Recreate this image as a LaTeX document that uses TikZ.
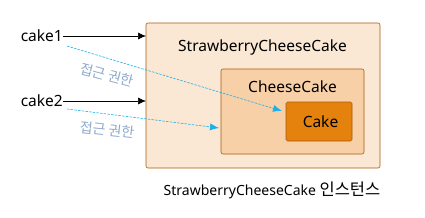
\documentclass[tikz,border=0pt]{standalone}
\usepackage{fontspec}
\setmainfont{Noto Sans}
\newfontfamily\kofont{Noto Sans CJK KR}
\usepackage{xcolor}
\usetikzlibrary{arrows.meta}
\definecolor{OuterFill}{HTML}{FAE8D4}
\definecolor{InnerFill}{HTML}{F8D0A8}
\definecolor{CakeFill}{HTML}{E5820E}
\definecolor{BoxLine}{HTML}{A85C0A}
\definecolor{AccessBlue}{HTML}{1AB0EC}
\definecolor{LabelBlue}{HTML}{8EAACB}

\begin{document}
\begin{tikzpicture}[x=1pt,y=-1pt,
    box/.style={draw=BoxLine, rounded corners=2pt, line width=0.6pt},
    ref/.style={-{Latex[length=8pt,width=7pt]}, line width=0.6pt},
    access/.style={-{Latex[length=9pt,width=7pt]}, AccessBlue, dash pattern=on 2.5pt off 1.2pt, line width=0.6pt},
    lbl/.style={font=\fontsize{15.5}{18}\selectfont, inner sep=0pt}]
    \useasboundingbox (0,0) rectangle (425,217);

    % Nested objects
    \draw[box, fill=OuterFill] (146,23) rectangle (380,168);
    \draw[box, fill=InnerFill] (221,69) rectangle (364,154);
    \draw[box, fill=CakeFill, rounded corners=1.5pt] (286,102) rectangle (352,141);
    \coordinate (outerL1) at (146,36);
    \coordinate (outerL2) at (146,101);
    \coordinate (innerT) at (282,111);
    \coordinate (innerL) at (219,128);

    \node[lbl] (strawberry) at (262.5,47) {StrawberryCheeseCake};
    \node[lbl] (cheese) at (292.5,87) {CheeseCake};
    \node[lbl] (cake) at (320.5,122) {Cake};
    \node[lbl, font=\fontsize{14}{16}\selectfont] (instance) at (272,190)
        {StrawberryCheeseCake {\kofont\fontsize{16.5}{18}\selectfont 인스턴스}};

    % References
    \node[lbl, anchor=east] (cakeA) at (63,36) {cake1};
    \node[lbl, anchor=east] (cakeB) at (63,101) {cake2};
    \draw[ref] (cakeA.east) -- (outerL1);
    \draw[ref] (cakeB.east) -- (outerL2);

    % Access paths
    \coordinate (fromA) at (67,46);
    \coordinate (fromB) at (67,109);
    \draw[access] (fromA) -- (innerT);
    \draw[access] (fromB) -- (innerL);
    \node[lbl, text=LabelBlue, rotate=-15, font=\kofont\fontsize{14}{16}\selectfont] (rightA) at (107,75) {접근 권한};
    \node[lbl, text=LabelBlue, rotate=-6, font=\kofont\fontsize{14}{16}\selectfont] (rightB) at (107,130) {접근 권한};
\end{tikzpicture}
\end{document}
